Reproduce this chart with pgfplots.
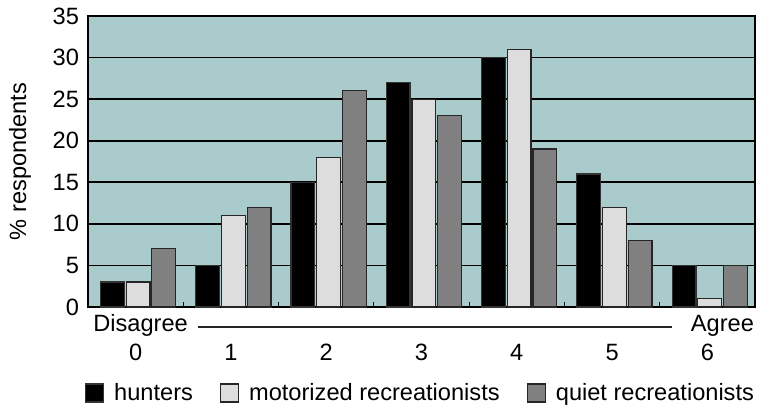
\documentclass[border=0pt]{standalone}
\usepackage{fontspec}
\setmainfont{Liberation Sans}
\usepackage{pgfplots}
\pgfplotsset{compat=1.18}
\definecolor{bgc}{RGB}{169,203,203}
\definecolor{motc}{RGB}{221,221,221}
\definecolor{quic}{RGB}{128,128,128}
\begin{document}
\begin{tikzpicture}
\begin{axis}[
  scale only axis, width=333.5pt, height=145.5pt,
  font=\fontsize{11.8}{14}\selectfont,
  /pgf/number format/assume math mode=true,
  axis background/.style={fill=bgc},
  ymin=0, ymax=35, ytick={0,5,...,35},
  xmin=-0.5, xmax=6.5,
  xtick={0,...,6},
  xticklabels={0,1,2,3,4,5,6},
  xticklabel shift=15pt,
  extra x ticks={0.5,1.5,...,5.5},
  extra x tick labels={},
  extra x tick style={major tick length=2.5pt, tick style={black, line width=0.6pt}},
  xtick pos=lower, ytick pos=left,
  ymajorgrids, major grid style={black, line width=0.8pt},
  axis line style={black, line width=0.8pt},
  major tick length=0pt,
  tick align=inside,
  yticklabel style={xshift=-1pt},
  ylabel={\% respondents},
  ylabel style={at={(axis description cs:-0.102,0.5)}, anchor=center},
  bar width=0.25,
  clip=false,
  legend columns=-1,
  legend style={draw=none, fill=none, at={(0.5,-0.2955)}, anchor=center,
    font=\fontsize{11.8}{14}\selectfont,
    /tikz/every even column/.append style={column sep=11.5pt},
    /tikz/every odd column/.append style={column sep=3pt}},
  legend image code/.code={\draw[#1] (0pt,-4.5pt) rectangle (9pt,4.5pt);},
]
\addplot[ybar, fill=black, draw=black!80, line width=0.6pt, bar shift=-0.245] coordinates {(0,3) (1,5) (2,15) (3,27) (4,30) (5,16) (6,5)};
\addplot[ybar, fill=motc, draw=black!85, line width=0.6pt, bar shift=0.025] coordinates {(0,3) (1,11) (2,18) (3,25) (4,31) (5,12) (6,1)};
\addplot[ybar, fill=quic, draw=black!85, line width=0.6pt, bar shift=0.295] coordinates {(0,7) (1,12) (2,26) (3,23) (4,19) (5,8) (6,5)};
\legend{hunters, motorized recreationists, quiet recreationists}
\node[anchor=base west, inner sep=0pt] at (axis description cs:0.0075,-0.0825) {Disagree};
\node[anchor=base east, inner sep=0pt] at (axis description cs:0.999,-0.0825) {Agree};
\draw[line width=0.6pt, black!85] (axis description cs:0.1645,-0.0687) -- (axis description cs:0.875,-0.0687);
\end{axis}
\pgfresetboundingbox
\path (-44pt,-50pt) rectangle (338pt,153.5pt);
\end{tikzpicture}
\end{document}
